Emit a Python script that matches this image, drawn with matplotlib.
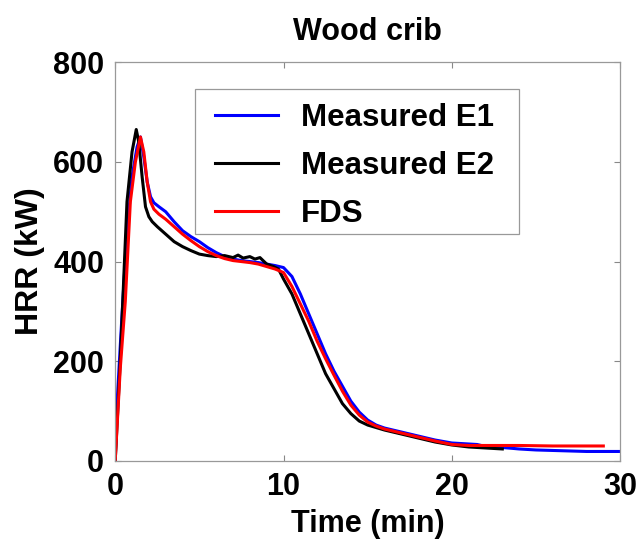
import matplotlib.pyplot as plt
from matplotlib.patches import Rectangle

# Measured E1
t_e1 = [0, 0.1, 0.4, 0.7, 1.0, 1.3, 1.5, 1.7, 1.9, 2.1, 2.3, 2.6, 3.0, 3.5, 4.0, 4.5,
        5.0, 5.5, 6.0, 6.5, 7.0, 7.5, 8.0, 8.5, 9.0, 9.5, 10.0, 10.5, 11.0, 11.5, 12.0,
        12.5, 13.0, 13.5, 14.0, 14.5, 15.0, 15.5, 16.0, 17.0, 18.0, 19.0, 20.0, 21.0,
        21.5, 22.0, 23.0, 24.0, 25.0, 26.0, 27.0, 28.0, 29.0, 30.0]
hrr_e1 = [0, 110, 290, 460, 570, 630, 650, 610, 560, 530, 518, 510, 500, 480, 462, 450,
          440, 428, 418, 410, 405, 402, 400, 398, 395, 392, 388, 370, 335, 295, 255,
          215, 180, 150, 120, 98, 82, 72, 66, 58, 50, 42, 36, 34,
          33, 29, 27, 24, 22, 21, 20, 19, 19, 19]

# Measured E2
t_e2 = [0, 0.3, 0.7, 1.0, 1.25, 1.4, 1.6, 1.8, 2.0, 2.2, 2.5, 3.0, 3.5, 4.0, 4.5, 5.0,
        5.5, 6.0, 6.5, 7.0, 7.3, 7.6, 8.0, 8.3, 8.6, 9.0, 9.4, 9.7, 10.0, 10.5, 11.0,
        11.5, 12.0, 12.5, 13.0, 13.5, 14.0, 14.5, 15.0, 15.5, 16.0, 17.0, 18.0, 19.0,
        20.0, 21.0, 22.0, 23.0]
hrr_e2 = [0, 200, 520, 620, 665, 640, 570, 510, 490, 480, 470, 455, 440, 430, 422, 415,
          412, 410, 412, 408, 413, 407, 410, 405, 408, 395, 390, 385, 365, 335, 295,
          255, 215, 175, 145, 115, 95, 80, 72, 67, 62, 54, 46, 38,
          32, 28, 26, 24]

# FDS
t_fds = [0, 0.3, 0.6, 0.9, 1.2, 1.5, 1.7, 1.9, 2.1, 2.3, 2.6, 3.0, 3.5, 4.0, 4.5, 5.0,
         5.5, 6.0, 6.5, 7.0, 7.5, 8.0, 8.5, 9.0, 9.5, 10.0, 10.5, 11.0, 11.5, 12.0,
         12.5, 13.0, 13.5, 14.0, 14.5, 15.0, 15.5, 16.0, 17.0, 18.0, 19.0, 20.0, 21.0,
         22.0, 24.0, 26.0, 29.0]
hrr_fds = [0, 185, 320, 520, 600, 650, 620, 560, 520, 505, 495, 485, 470, 455, 442, 430,
           420, 412, 406, 402, 400, 398, 395, 390, 385, 378, 350, 315, 280, 240,
           205, 172, 140, 112, 92, 78, 70, 64, 56, 48, 40, 33, 31,
           31, 31, 30, 30]

plt.rcParams['font.family'] = ['Liberation Sans', 'DejaVu Sans']
plt.rcParams['font.weight'] = 'bold'

fig = plt.figure(figsize=(6.4, 5.41), dpi=100)
ax = fig.add_axes([0.180, 0.148, 0.789, 0.737])

ax.plot(t_e1, hrr_e1, color='#0000ff', lw=2.2, label='Measured E1')
ax.plot(t_e2, hrr_e2, color='black', lw=2.2, label='Measured E2')
ax.plot(t_fds, hrr_fds, color='#ff0000', lw=2.2, label='FDS')

ax.set_xlim(0, 30)
ax.set_ylim(0, 800)
ax.set_xticks([0, 10, 20, 30])
ax.set_yticks([0, 200, 400, 600, 800])
ax.tick_params(direction='in', length=4, width=0.8, color='#888888',
               top=True, right=True, labelsize=22, pad=8)
for lab in ax.get_xticklabels() + ax.get_yticklabels():
    lab.set_fontweight('bold')
for sp in ax.spines.values():
    sp.set_color('#999999')
    sp.set_linewidth(0.9)

ax.set_title('Wood crib', fontsize=22, fontweight='bold', pad=16)
ax.set_xlabel('Time (min)', fontsize=22, fontweight='bold', labelpad=5)
ax.set_ylabel('HRR (kW)', fontsize=23, fontweight='bold', labelpad=6)

# legend frame drawn separately so the box can be wider than its contents
ax.add_patch(Rectangle((0.158, 0.568), 0.642, 0.364, transform=ax.transAxes,
                       facecolor='white', edgecolor='#999999', lw=0.9, zorder=4))
leg = ax.legend(loc='upper left', bbox_to_anchor=(0.198, 0.898), fontsize=22.5,
                frameon=False, handlelength=2.0, handletextpad=0.75,
                labelspacing=0.58, borderpad=0, borderaxespad=0)
leg.set_zorder(5)
for txt in leg.get_texts():
    txt.set_fontweight('bold')

fig.savefig('out.png', dpi=100)
